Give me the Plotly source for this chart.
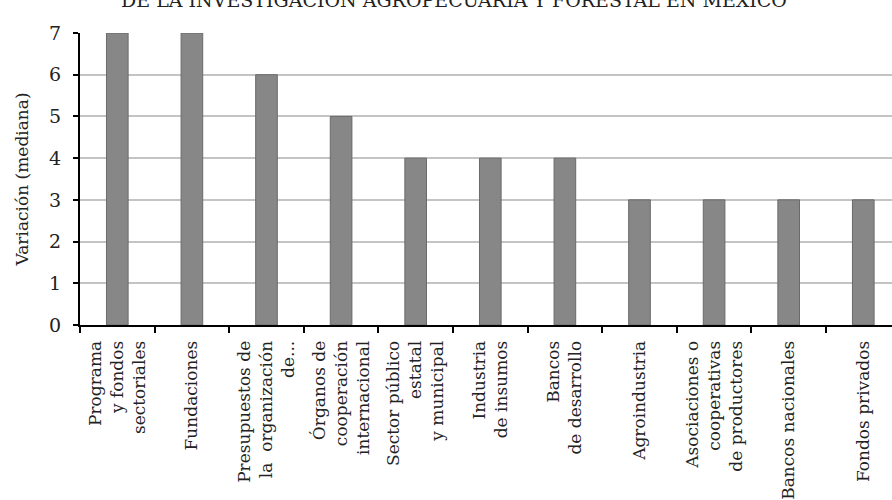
import plotly.graph_objects as go

categories = [
    "Programa<br>y fondos<br>sectoriales",
    "Fundaciones",
    "Presupuestos de<br>la  organización<br>de...",
    "Órganos de<br>cooperación<br>internacional",
    "Sector público<br>estatal<br>y municipal",
    "Industria<br>de insumos",
    "Bancos<br>de desarrollo",
    "Agroindustria",
    "Asociaciones o<br>cooperativas<br>de productores",
    "Bancos nacionales",
    "Fondos privados",
]
values = [7, 7, 6, 5, 4, 4, 4, 3, 3, 3, 3]
y_ticks = [0, 1, 2, 3, 4, 5, 6, 7]

title_text = "DE LA INVESTIGACIÓN AGROPECUARIA Y FORESTAL EN MÉXICO"
y_title = "Variación (mediana)"

FONT = "DejaVu Serif"

fig = go.Figure(
    go.Bar(
        x=categories,
        y=values,
        width=0.29,
        marker=dict(color="#878787", line=dict(color="#6a6a6a", width=1)),
    )
)

fig.update_layout(
    width=892,
    height=500,
    margin=dict(l=80, r=0, t=33, b=173),
    paper_bgcolor="white",
    plot_bgcolor="white",
    showlegend=False,
    font=dict(family=FONT, color="#222222"),
    title=dict(
        text=title_text,
        x=0.509,
        xanchor="center",
        y=1.0,
        yref="container",
        yanchor="middle",
        font=dict(family=FONT, size=19, color="#222222"),
    ),
)

fig.update_xaxes(
    type="category",
    range=[-0.5, 10.385],
    tickangle=-90,
    tickson="boundaries",
    ticks="outside",
    ticklen=6,
    tickwidth=1.5,
    tickcolor="black",
    ticklabelstandoff=7,
    showline=True,
    linecolor="black",
    linewidth=2,
    showgrid=False,
    tickfont=dict(family=FONT, size=17, color="#222222"),
)

fig.update_yaxes(
    range=[0, 7],
    tickmode="array",
    tickvals=y_ticks,
    ticks="outside",
    ticklen=5,
    tickwidth=1.5,
    tickcolor="black",
    ticklabelstandoff=8,
    showline=True,
    linecolor="black",
    linewidth=2,
    showgrid=True,
    gridcolor="#c4c4c4",
    gridwidth=1.5,
    zeroline=False,
    tickfont=dict(family=FONT, size=19, color="#222222"),
    title=dict(text=y_title, font=dict(family=FONT, size=17, color="#222222"), standoff=16),
)

fig.write_html("out.html")
